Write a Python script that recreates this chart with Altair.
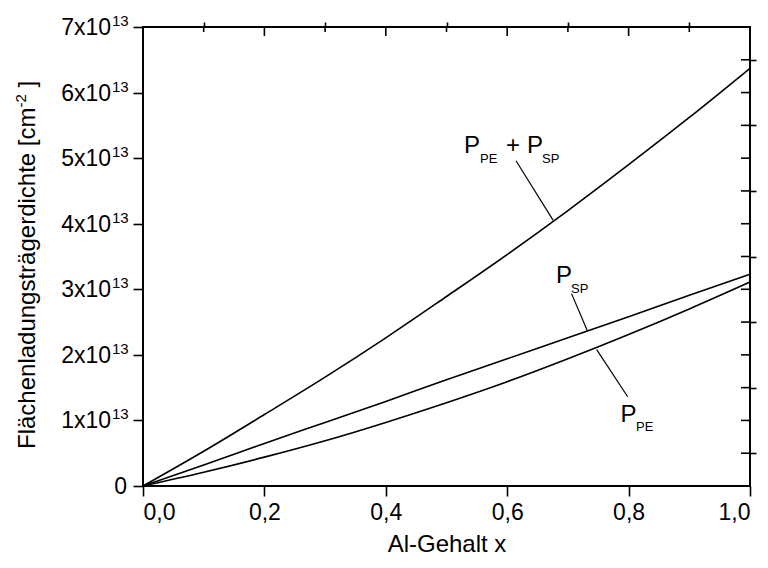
import altair as alt
import pandas as pd

# ---- data (y in units of 1e13 cm^-2) ----
al_x = [0.0, 0.1, 0.2, 0.3, 0.4, 0.5, 0.6, 0.7, 0.8, 0.9, 1.0]
p_sum = [0.0, 0.53, 1.09, 1.66, 2.26, 2.89, 3.53, 4.20, 4.90, 5.62, 6.37]
p_sp = [0.0, 0.32, 0.65, 0.97, 1.29, 1.62, 1.94, 2.26, 2.58, 2.91, 3.23]
p_pe = [0.0, 0.21, 0.44, 0.69, 0.97, 1.27, 1.59, 1.94, 2.31, 2.70, 3.11]

x_major = [0.0, 0.2, 0.4, 0.6, 0.8, 1.0]
x_minor = [0.1, 0.3, 0.5, 0.7, 0.9]
y_major = [0, 1, 2, 3, 4, 5, 6, 7]
y_minor = [0.5, 1.5, 2.5, 3.5, 4.5, 5.5, 6.5]
y_main_labels = ["0", "1x10", "2x10", "3x10", "4x10", "5x10", "6x10", "7x10"]
y_exp = "13"

W, H = 607, 459
FONT = "Liberation Sans"

rows = []
for name, vals in [("sum", p_sum), ("sp", p_sp), ("pe", p_pe)]:
    for xv, yv in zip(al_x, vals):
        rows.append({"x": xv, "y": yv, "s": name})
df = pd.DataFrame(rows)

xs = alt.Scale(domain=[0, 1], nice=False, zero=False)
ys = alt.Scale(domain=[0, 7], nice=False, zero=False)

lines = alt.Chart(df).mark_line(color="black", strokeWidth=1.6, interpolate="monotone").encode(
    x=alt.X("x:Q", scale=xs, axis=alt.Axis(
        values=x_major, tickSize=10, tickWidth=1.6, tickColor="black", domain=False, grid=False,
        labelExpr="replace(format(datum.value, '.1f'), '.', ',')",
        labelFontSize=23, labelColor="black", labelPadding=5, labelFont=FONT,
        title="Al-Gehalt x", titleFontSize=24, titleFontWeight="normal", titleColor="black",
        titlePadding=8, titleFont=FONT)),
    y=alt.Y("y:Q", scale=ys, axis=alt.Axis(
        values=y_major, tickSize=10, tickWidth=1.6, tickColor="black", domain=False, grid=False,
        labels=False, title=None)),
    detail="s:N",
)

minor_axes = alt.Chart(df).mark_point(opacity=0).encode(
    x=alt.X("x:Q", scale=xs, axis=alt.Axis(values=x_minor, tickSize=5, tickWidth=1.6, tickColor="black",
                                           domain=False, grid=False, labels=False, title=None)),
    y=alt.Y("y:Q", scale=ys, axis=alt.Axis(values=y_minor, tickSize=6, tickWidth=1.6, tickColor="black",
                                           domain=False, grid=False, labels=False, title=None)),
)

# mirrored inward ticks on top and right
top_major = alt.Chart(pd.DataFrame({"t": x_major})).mark_rule(color="black", strokeWidth=1.6).encode(
    x=alt.X("t:Q", scale=xs, axis=None), y=alt.value(0), y2=alt.value(9))
top_minor = alt.Chart(pd.DataFrame({"t": x_minor})).mark_rule(color="black", strokeWidth=1.6).encode(
    x=alt.X("t:Q", scale=xs, axis=None), y=alt.value(0), y2=alt.value(5))
right_ticks = alt.Chart(pd.DataFrame({"t": y_major + y_minor})).mark_rule(color="black", strokeWidth=1.6).encode(
    y=alt.Y("t:Q", scale=ys, axis=None), x=alt.value(W - 9), x2=alt.value(W))

# y tick labels with superscript exponent
lab_df = pd.DataFrame({"v": y_major, "main": y_main_labels})
zero_lab = alt.Chart(lab_df[lab_df.v == 0]).mark_text(
    align="right", baseline="alphabetic", dy=8, fontSize=23, font=FONT, color="black").encode(
    y=alt.Y("v:Q", scale=ys, axis=None), x=alt.value(-16), text="main:N")
main_lab = alt.Chart(lab_df[lab_df.v > 0]).mark_text(
    align="right", baseline="alphabetic", dy=8, fontSize=23, font=FONT, color="black").encode(
    y=alt.Y("v:Q", scale=ys, axis=None), x=alt.value(-32), text="main:N")
exp_lab = alt.Chart(lab_df[lab_df.v > 0].assign(e=y_exp)).mark_text(
    align="left", baseline="alphabetic", dy=-1, fontSize=15, font=FONT, color="black").encode(
    y=alt.Y("v:Q", scale=ys, axis=None), x=alt.value(-31), text="e:N")

# y axis title (rotated, with superscript)
t_main = "Flächenladungsträgerdichte [cm"
t_sup = "-2"
t_end = "]"
ytitle_main = alt.Chart(pd.DataFrame({"t": [t_main]})).mark_text(
    angle=270, align="left", baseline="alphabetic", fontSize=24, font=FONT, color="black").encode(
    x=alt.value(-108), y=alt.value(422), text="t:N")
ytitle_sup = alt.Chart(pd.DataFrame({"t": [t_sup]})).mark_text(
    angle=270, align="left", baseline="alphabetic", fontSize=15, font=FONT, color="black").encode(
    x=alt.value(-117), y=alt.value(422 - 341.5), text="t:N")
ytitle_end = alt.Chart(pd.DataFrame({"t": [t_end]})).mark_text(
    angle=270, align="left", baseline="alphabetic", fontSize=24, font=FONT, color="black").encode(
    x=alt.value(-108), y=alt.value(422 - 341.5 - 13.3 - 6.7), text="t:N")

# curve annotations (positions in data units)
big_txt = pd.DataFrame({
    "x": [0.5288, 0.598, 0.6326, 0.6804, 0.7867],
    "y": [5.076, 5.076, 5.076, 3.09, 0.98],
    "t": ["P", "+", "P", "P", "P"],
})
sub_txt = pd.DataFrame({
    "x": [0.5552, 0.6573, 0.7051, 0.8122],
    "y": [4.924, 4.924, 2.947, 0.838],
    "t": ["PE", "SP", "SP", "PE"],
})
leaders = pd.DataFrame({
    "x1": [0.6145, 0.706, 0.7474],
    "y1": [4.96, 2.934, 2.08],
    "x2": [0.6755, 0.732, 0.7985],
    "y2": [4.055, 2.367, 1.361],
})
ann_big = alt.Chart(big_txt).mark_text(align="left", baseline="alphabetic", fontSize=24, font=FONT,
                                       color="black").encode(
    x=alt.X("x:Q", scale=xs, axis=None), y=alt.Y("y:Q", scale=ys, axis=None), text="t:N")
ann_sub = alt.Chart(sub_txt).mark_text(align="left", baseline="alphabetic", fontSize=13, font=FONT,
                                       color="black").encode(
    x=alt.X("x:Q", scale=xs, axis=None), y=alt.Y("y:Q", scale=ys, axis=None), text="t:N")
ann_lines = alt.Chart(leaders).mark_rule(color="black", strokeWidth=1.2).encode(
    x=alt.X("x1:Q", scale=xs, axis=None), y=alt.Y("y1:Q", scale=ys, axis=None),
    x2="x2:Q", y2="y2:Q")

chart = alt.layer(
    lines, minor_axes, top_major, top_minor, right_ticks,
    zero_lab, main_lab, exp_lab, ytitle_main, ytitle_sup, ytitle_end,
    ann_lines, ann_big, ann_sub,
).resolve_axis(x="independent", y="independent").properties(
    width=W, height=H,
    autosize=alt.AutoSizeParams(type="none"),
    padding={"left": 143, "top": 27, "right": 18, "bottom": 82},
    background="white",
).configure(
    font=FONT,
    view=alt.ViewConfig(stroke="black", strokeWidth=2),
)

chart.save("out.html", embed_options={"renderer": "svg", "actions": False})
